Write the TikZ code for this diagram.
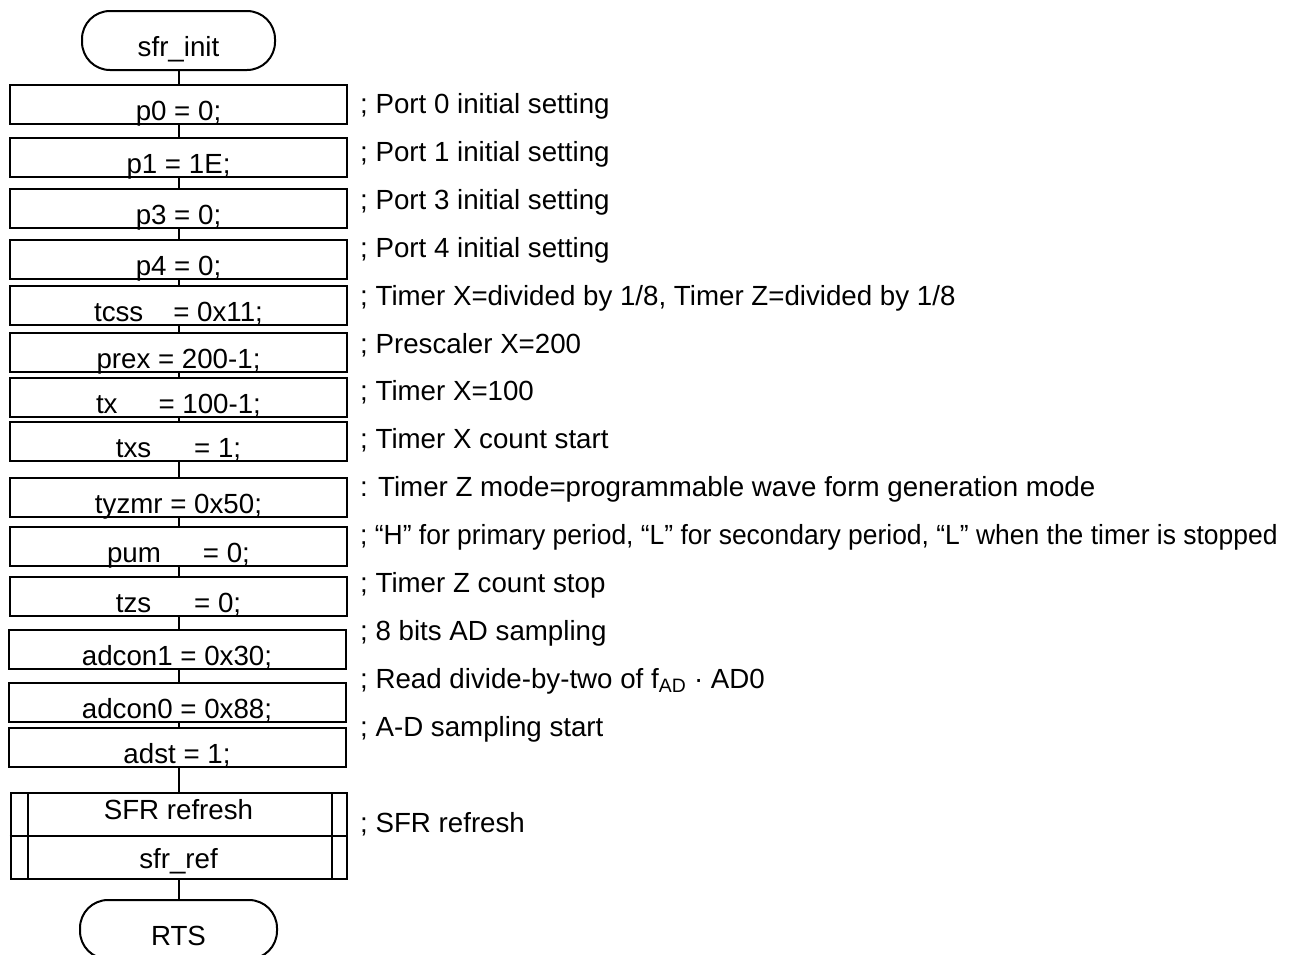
\documentclass[tikz,border=0pt]{standalone}
\usepackage{fontspec}
\setmainfont{Liberation Sans}
\usepackage{graphicx}
\usepackage{tikz}
\usetikzlibrary{positioning,calc}
\tikzset{
  flowfont/.style={font=\fontsize{27.7}{33}\selectfont},
  termbox/.style={
    rectangle, draw, line width=2pt, rounded corners=28pt,
    minimum width=#1, inner sep=0pt,
    text height=45pt, text depth=14pt, flowfont
  },
  termbox/.default=193pt,
  procbox/.style={
    rectangle, draw, line width=2pt, fill=white,
    minimum width=337pt, inner sep=0pt,
    text height=35pt, text depth=4pt, flowfont
  },
  subbox/.style={
    rectangle, draw, line width=2pt,
    minimum width=336pt, minimum height=86pt, inner sep=0pt
  },
  subtext/.style={anchor=base, inner sep=0pt, flowfont},
  note/.style={anchor=base west, inner sep=0pt, flowfont},
  link/.style={line width=2pt},
}

\begin{document}
\begin{tikzpicture}[x=1pt,y=-1pt]
\clip (0,0) rectangle (1290,954);

% Entry terminal
\node[termbox, anchor=south] (init) at (178.5,71) {sfr\_init};

% Register settings
\node[procbox, anchor=south] (p0) at (178.5,125) {p0 = 0;};
\node[procbox, anchor=south] (p1) at (178.5,178) {p1 = 1E;};
\node[procbox, anchor=south] (p3) at (178.5,229) {p3 = 0;};
\node[procbox, anchor=south] (p4) at (178.5,280) {p4 = 0;};
\node[procbox, anchor=south] (tcss) at (178.5,326) {tcss\hspace{30pt}= 0x11;};
\node[procbox, anchor=south] (prex) at (178.5,373) {prex = 200-1;};
\node[procbox, anchor=south] (tx) at (178.5,418) {tx\hspace{41pt}= 100-1;};
\node[procbox, anchor=south] (txs) at (178.5,462) {txs\hspace{43pt}= 1;};
\node[procbox, anchor=south] (tyzmr) at (178.5,518) {tyzmr = 0x50;};
\node[procbox, anchor=south] (pum) at (178.5,567) {pum\hspace{42pt}= 0;};
\node[procbox, anchor=south] (tzs) at (178.5,617) {tzs\hspace{43pt}= 0;};
\node[procbox, anchor=south] (adcon1) at (177,670) {adcon1 = 0x30;};
\node[procbox, anchor=south] (adcon0) at (177,723) {adcon0 = 0x88;};
\node[procbox, anchor=south] (adst) at (177,768) {adst = 1;};

% Subroutine call
\node[subbox] (sfrref) at (178.5,836) {};
\draw[link] (sfrref.west) -- (sfrref.east);
\draw[link] ([xshift=18pt]sfrref.north west) -- ([xshift=18pt]sfrref.south west);
\draw[link] ([xshift=-16pt]sfrref.north east) -- ([xshift=-16pt]sfrref.south east);
\node[subtext] (subname) at (178.5,819) {SFR refresh};
\node[subtext] (subcall) at (178.5,868) {sfr\_ref};

% Return terminal
\node[termbox=197pt, anchor=north] (rts) at (178.5,899) {RTS};

% Flow lines
\draw[link] (init) -- (p0);
\draw[link] (p0) -- (p1);
\draw[link] (p1) -- (p3);
\draw[link] (p3) -- (p4);
\draw[link] (p4) -- (tcss);
\draw[link] (tcss) -- (prex);
\draw[link] (prex) -- (tx);
\draw[link] (tx) -- (txs);
\draw[link] (txs) -- (tyzmr);
\draw[link] (tyzmr) -- (pum);
\draw[link] (pum) -- (tzs);
\draw[link] (tzs.south) -- (tzs.south |- adcon1.north);
\draw[link] (adcon1.south -| tzs.south) -- (tzs.south |- adcon0.north);
\draw[link] (adcon0.south -| tzs.south) -- (tzs.south |- adst.north);
\draw[link] (adst.south -| tzs.south) -- (tzs.south |- sfrref.north);
\draw[link] (sfrref) -- (rts);

% Comments
\node[note] (c0) at (360,113) {; Port 0 initial setting};
\node[note] (c1) at (360,161) {; Port 1 initial setting};
\node[note] (c3) at (360,209) {; Port 3 initial setting};
\node[note] (c4) at (360,257) {; Port 4 initial setting};
\node[note] (ctcss) at (360,305) {; Timer X=divided by 1/8, Timer Z=divided by 1/8};
\node[note] (cprex) at (360,353) {; Prescaler X=200};
\node[note] (ctx) at (360,400) {; Timer X=100};
\node[note] (ctxs) at (360,448) {; Timer X count start};
\node[note] (ctyzmr) at (360,496) {: Timer Z mode=programmable wave form generation mode};
\node[note] (cpum) at (360,544) {\scalebox{0.955}[1]{; “H” for primary period, “L” for secondary period, “L” when the timer is stopped}};
\node[note] (ctzs) at (360,592) {; Timer Z count stop};
\node[note] (cad1) at (360,640) {; 8 bits AD sampling};
\node[note] (cad0) at (360,688) {; Read divide-by-two of f\textsubscript{AD} · AD0};
\node[note] (cadst) at (360,736) {; A-D sampling start};
\node[note] (cref) at (360,832) {; SFR refresh};

\end{tikzpicture}
\end{document}
